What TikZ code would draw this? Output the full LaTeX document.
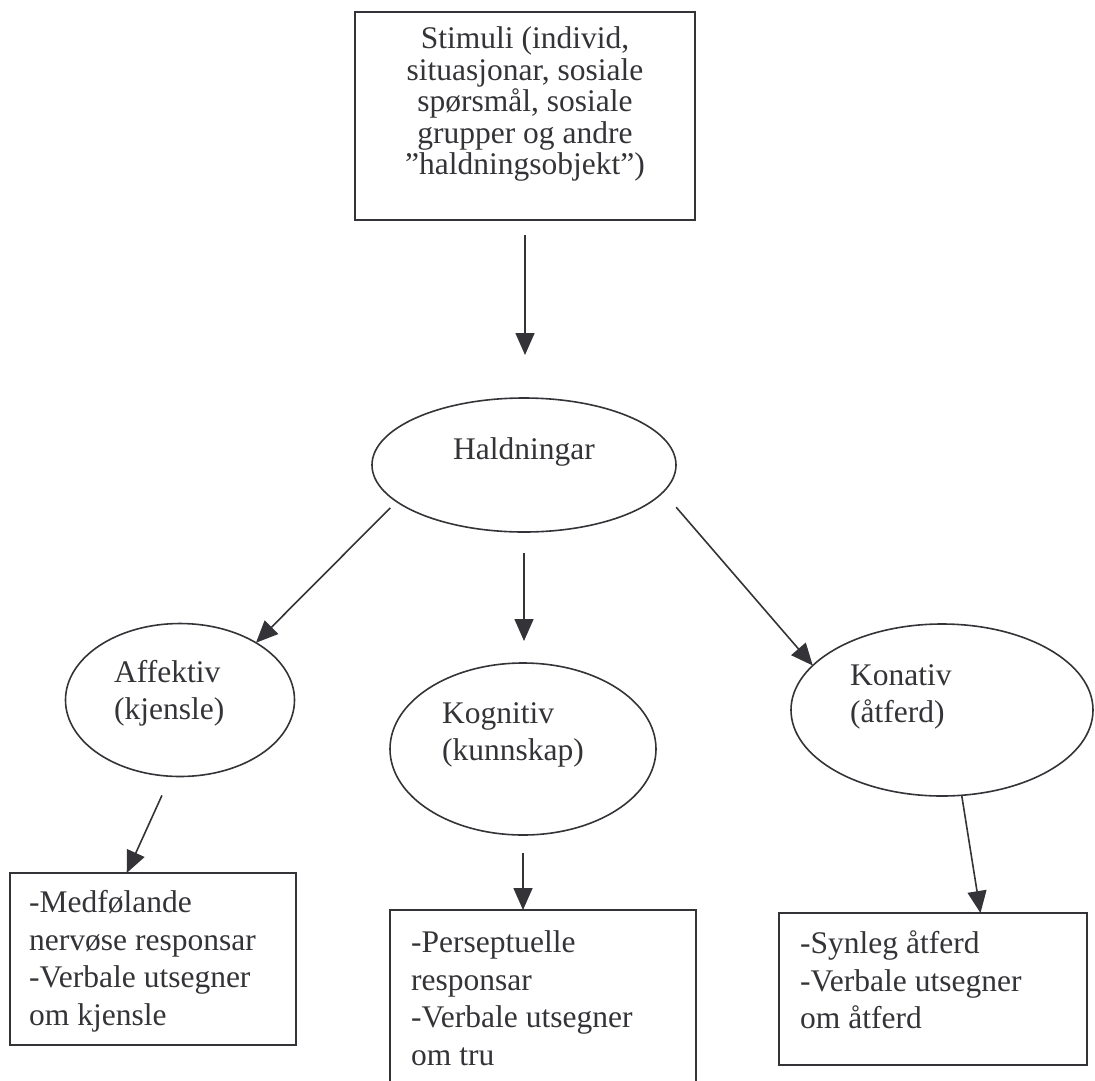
\documentclass[tikz,border=0pt]{standalone}
\usepackage{fontspec}
\setmainfont{Liberation Serif}
\usetikzlibrary{arrows.meta,shapes.geometric}
\definecolor{ink}{RGB}{52,52,56}
\begin{document}
\begin{tikzpicture}[x=1pt,y=-1pt,
  box/.style={draw=ink,line width=1.6pt,rectangle,inner sep=0pt,outer sep=0pt},
  oval/.style={draw=ink,line width=1.6pt,ellipse,inner sep=0pt,outer sep=0pt},
  lbl/.style={text=ink,inner sep=0pt,font=\fontsize{31.5}{37.5}\selectfont},
  arr/.style={draw=ink,line width=1.6pt,-{Triangle[length=22pt,width=19pt]}}]
\useasboundingbox (0,0) rectangle (1095,1080);
\clip (0,0) rectangle (1095,1080);

% top stimulus box
\node[box,minimum width=340pt,minimum height=208pt] (stim) at (525,116) {};
\node[lbl,align=center,font=\fontsize{31.5}{31.5}\selectfont] (stimtxt) at (525,104)
  {Stimuli (individ,\\situasjonar, sosiale\\spørsmål, sosiale\\grupper og andre\\”haldningsobjekt”)};

% attitude
\node[oval,minimum width=304pt,minimum height=134pt] (hald) at (524,465) {};
\node[lbl] (haldtxt) at (524,452) {Haldningar};

% three components
\node[oval,minimum width=229pt,minimum height=153pt] (aff) at (180,700) {};
\node[lbl,align=left,anchor=west] (afftxt) at (114,693) {Affektiv\\(kjensle)};
\node[oval,minimum width=266pt,minimum height=172pt] (kog) at (523,749) {};
\node[lbl,align=left,anchor=west] (kogtxt) at (442,735) {Kognitiv\\(kunnskap)};
\node[oval,minimum width=302pt,minimum height=172pt] (kon) at (942,710) {};
\node[lbl,align=left,anchor=west] (kontxt) at (850,697) {Konativ\\(åtferd)};

% responses
\node[box,minimum width=286pt,minimum height=172pt] (res1) at (153,959) {};
\node[lbl,align=left,anchor=west] (res1txt) at (29,961)
  {-Medfølande\\nervøse responsar\\-Verbale utsegner\\om kjensle};
\node[box,minimum width=306pt,minimum height=190pt] (res2) at (543,1005) {};
\node[lbl,align=left,anchor=west] (res2txt) at (411,998)
  {-Perseptuelle\\responsar\\-Verbale utsegner\\om tru};
\node[box,minimum width=308pt,minimum height=152pt] (res3) at (933,989) {};
\node[lbl,align=left,anchor=west] (res3txt) at (800,980)
  {-Synleg åtferd\\-Verbale utsegner\\om åtferd};

% connectors
\draw[arr,shorten <=15pt,shorten >=43pt] (stim.south) -- (stim.south |- hald.north);
\draw[arr,shorten <=9pt] (hald.196) -- (aff.37);
\draw[arr,shorten <=21pt,shorten >=22pt] (hald.south) -- (hald.south |- kog.north);
\draw[arr,shorten <=20pt] (hald.349) -- (kon.161);
\draw[arr,shorten <=21pt] (aff.263) -- (res1.107);
\draw[arr,shorten <=18pt] (kog.south) -- (kog.south |- res2.north);
\draw[arr] (kon.283) -- (res3.58);
\end{tikzpicture}
\end{document}
